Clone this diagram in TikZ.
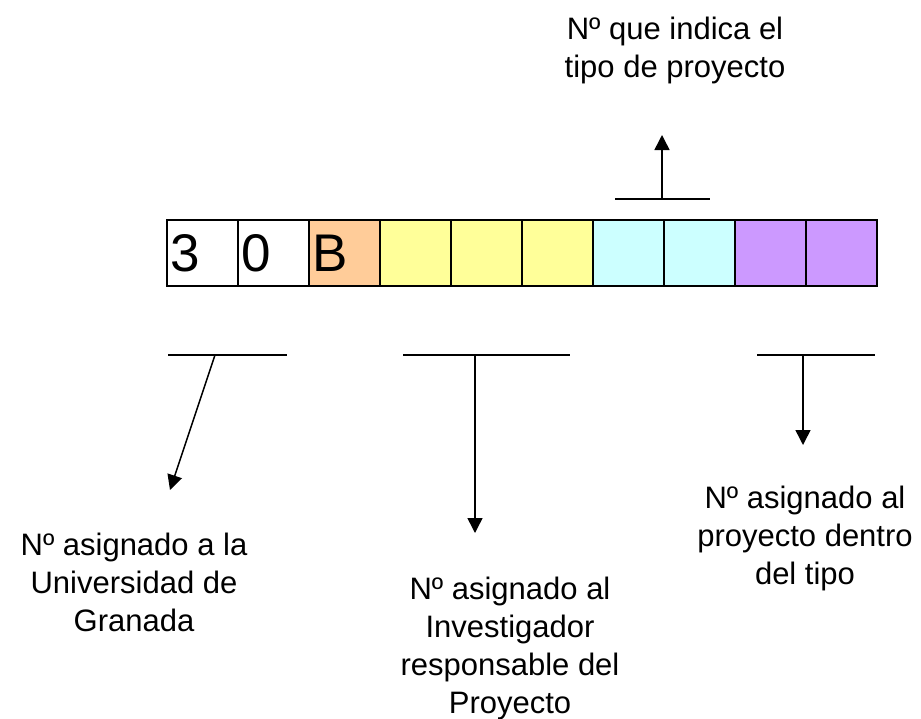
\documentclass[tikz,border=0pt]{standalone}
\usepackage{fontspec}
\setmainfont{Liberation Sans}
\usepackage{xcolor}
\usepackage{tikz}
\usetikzlibrary{positioning,arrows.meta}
\definecolor{naranja}{HTML}{FFCC99}
\definecolor{amarillo}{HTML}{FFFF99}
\definecolor{celeste}{HTML}{CCFFFF}
\definecolor{lila}{HTML}{CC99FF}

\begin{document}
\begin{tikzpicture}[x=1pt,y=-1pt,
	casilla/.style={draw,line width=1.5pt,minimum width=71pt,minimum height=66pt,
		inner sep=3pt,text width=65pt,align=left,font=\fontsize{53}{53}\selectfont},
	rotulo/.style={align=center,inner sep=0pt,font=\fontsize{31}{38}\selectfont},
	barra/.style={line width=1.5pt},
	flecha/.style={line width=1.5pt,-{Triangle[length=15pt,width=15pt]}}]
	\useasboundingbox (0,0) rectangle (921,718);
	\foreach \col/\txt [count=\i] in {white/3,white/0,naranja/B,amarillo/,amarillo/,amarillo/,celeste/,celeste/,lila/,lila/}
		\node[casilla,fill=\col] (c\i) at ({202.5+71*(\i-1)},253) {\txt};
	\node[rotulo,anchor=north] (tipo) at (675,17) {Nº que indica el\\tipo de proyecto};
	\node[rotulo,anchor=north] (ugr) at (134,533) {Nº asignado a la\\Universidad de\\Granada};
	\node[rotulo,anchor=north] (inv) at (510,577) {Nº asignado al\\Investigador\\responsable del\\Proyecto};
	\node[rotulo,anchor=north] (num) at (805,486) {Nº asignado al\\proyecto dentro\\del tipo};
	\coordinate (ta) at (615,199);
	\coordinate (tb) at (710,199);
	\coordinate (tm) at (662,199);
	\coordinate (tf) at (662,135);
	\coordinate (ua) at (168,355);
	\coordinate (ub) at (287,355);
	\coordinate (um) at (215,355);
	\coordinate (uf) at (170,490);
	\coordinate (ia) at (403,355);
	\coordinate (ib) at (570,355);
	\coordinate (im) at (475,355);
	\coordinate (if) at (475,533);
	\coordinate (na) at (757,355);
	\coordinate (nb) at (875,355);
	\coordinate (nm) at (803,355);
	\coordinate (nf) at (803,445);
	\draw[barra] (ta) -- (tb);
	\draw[flecha] (tm) -- (tf);
	\draw[barra] (ua) -- (ub);
	\draw[flecha] (um) -- (uf);
	\draw[barra] (ia) -- (ib);
	\draw[flecha] (im) -- (if);
	\draw[barra] (na) -- (nb);
	\draw[flecha] (nm) -- (nf);
\end{tikzpicture}
\end{document}
